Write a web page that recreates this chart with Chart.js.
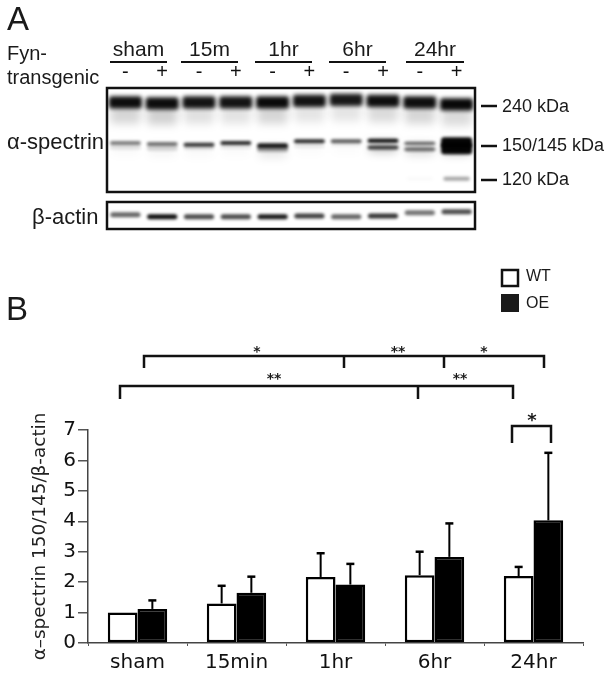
<!DOCTYPE html>
<html>
<head>
<meta charset="utf-8">
<script src="https://cdn.jsdelivr.net/npm/chart.js@4"></script>
<style>
  html, body { margin: 0; background: #fff; }
  #page { position: relative; width: 608px; height: 675px; overflow: hidden; filter: blur(0.45px); }
  canvas { position: absolute; display: block; }
</style>
</head>
<body>
<div id="page">
  <canvas id="bars" width="608" height="675" style="left:0;top:0"></canvas>
  <canvas id="blot" width="372" height="134" style="left:105px;top:60px"></canvas>
  <canvas id="actin" width="372" height="31" style="left:105px;top:200px"></canvas>
</div>
<script>
// panel B values
const timepoints = ['sham', '15min', '1hr', '6hr', '24hr']
const wtValues   = [1.0, 1.3, 2.17, 2.23, 2.2]
const oeValues   = [1.12, 1.65, 1.92, 2.83, 4.03]
const wtErrTop   = [null, 1.88, 2.95, 3.0, 2.5]
const oeErrTop   = [1.4, 2.18, 2.6, 3.93, 6.25]
const yTicks     = [0, 1, 2, 3, 4, 5, 6, 7]

// panel A blot, band position = distance down the membrane, shade = 0..1
const laneSigns  = ['-', '+', '-', '+', '-', '+', '-', '+', '-', '+']
const pos240     = [14, 15, 14, 14, 14, 12.7, 11.7, 12.7, 14, 16]
const shade240   = [.95, .95, .92, .92, .96, .92, .9, .94, .94, .97]
const smear240   = [.16, .18, .12, .11, .16, .1, .1, .14, .16, .14]
const pos150     = [54, 55, 55.7, 54, 56.7, 52.3, 52.3, 51.7, 54.3, 53.3]
const shade150   = [.5, .55, .8, .85, .9, .85, .65, .95, .6, .98]
const thick150   = [4, 4, 4, 4, 5, 4, 4, 4, 3, 10]
const pos145     = [58, 59, 59, 58, 60, 57, 56, 58.3, 60, 59.5]
const shade145   = [.1, .15, .1, .08, .35, .08, .06, .75, .55, .98]
const thick145   = [5, 5, 4, 4, 5, 4, 3, 4, 4, 11]
const pos120     = [89, 89, 89, 89, 89, 89, 89, 89, 89, 89]
const shade120   = [0, 0, 0, 0, 0, 0, 0, 0, .02, .35]
const posActin   = [12.7, 14.7, 14.7, 14.7, 14.7, 14, 14.7, 14, 10.7, 9.7]
const shadeActin = [.6, .95, .7, .7, .9, .75, .6, .8, .55, .7]

const SANS = '"Liberation Sans", Arial, sans-serif'
const VERA = '"DejaVu Sans", Verdana, sans-serif'

const texts = [
  ['A', 7, 21, 33, SANS], ['B', 6, 311, 33, SANS],
  ['Fyn-', 7, 54, 20, SANS], ['transgenic', 7, 78, 20, SANS],
  ['α-spectrin', 7, 143, 22, SANS], ['β-actin', 32, 218, 22, SANS],
  ['240 kDa', 502, 107, 18, SANS], ['150/145 kDa', 502, 146, 18, SANS], ['120 kDa', 502, 180, 18, SANS],
  ['WT', 526, 277, 16, SANS], ['OE', 526, 304, 16, SANS],
]
const groupHeads = [
  ['sham', 110, 167], ['15m', 181, 238], ['1hr', 255, 312], ['6hr', 329, 386], ['24hr', 406, 464],
]
const markerLines = [106, 146, 180]
const brackets = [
  { y: 356, drop: 12, xs: [144, 344, 444, 544] },
  { y: 386, drop: 13, xs: [120, 418, 513] },
  { y: 426, drop: 17, xs: [512, 551] },
]
const stars = [
  ['*', 257, 352, 14], ['**', 398, 352, 14], ['*', 484, 352, 14],
  ['**', 274, 379, 14], ['**', 460, 379, 14], ['*', 532, 421, 18],
]

const overlay = {
  id: 'overlay',
  afterDraw(chart) {
    const c = chart.ctx
    c.save()
    c.fillStyle = '#1a1a1a'
    c.strokeStyle = '#111'
    c.textBaseline = 'middle'
    c.textAlign = 'left'
    texts.forEach(([t, x, y, size, font]) => {
      c.font = `${size}px ${font}`
      c.fillText(t, x, y)
    })
    c.textAlign = 'center'
    c.font = `21px ${SANS}`
    c.lineWidth = 2
    groupHeads.forEach(([t, x0, x1]) => {
      c.fillText(t, (x0 + x1) / 2, 50)
      c.beginPath(); c.moveTo(x0, 62); c.lineTo(x1, 62); c.stroke()
    })
    c.lineWidth = 2.5
    markerLines.forEach(y => {
      c.beginPath(); c.moveTo(481, y); c.lineTo(497, y); c.stroke()
    })
    brackets.forEach(b => {
      c.beginPath()
      c.moveTo(b.xs[0], b.y + b.drop); c.lineTo(b.xs[0], b.y)
      c.lineTo(b.xs[b.xs.length - 1], b.y); c.lineTo(b.xs[b.xs.length - 1], b.y + b.drop)
      b.xs.slice(1, -1).forEach(x => { c.moveTo(x, b.y); c.lineTo(x, b.y + b.drop) })
      c.stroke()
    })
    stars.forEach(([t, x, y, size]) => {
      c.font = `bold ${size}px ${VERA}`
      c.fillText(t, x, y)
    })
    // legend boxes
    c.lineWidth = 2.5
    c.strokeRect(502, 270, 16, 16)
    c.fillRect(501, 294, 18, 18)
    c.restore()
  },
}

const errorBars = {
  id: 'errorBars',
  afterDatasetsDraw(chart) {
    const c = chart.ctx
    const y = chart.scales.y
    c.save()
    c.strokeStyle = '#000'
    ;[wtErrTop, oeErrTop].forEach((tops, ds) => {
      chart.getDatasetMeta(ds).data.forEach((bar, i) => {
        if (tops[i] == null) return
        const top = y.getPixelForValue(tops[i])
        c.lineWidth = 2
        c.beginPath(); c.moveTo(bar.x, bar.y); c.lineTo(bar.x, top); c.stroke()
        c.lineWidth = 2.5
        c.beginPath(); c.moveTo(bar.x - 4, top); c.lineTo(bar.x + 4, top); c.stroke()
      })
    })
    c.restore()
  },
}

new Chart(document.getElementById('bars'), {
  type: 'bar',
  data: {
    labels: timepoints,
    datasets: [
      { label: 'WT', data: wtValues, backgroundColor: '#fff', borderColor: '#000', borderWidth: 2.5, borderSkipped: false },
      { label: 'OE', data: oeValues, backgroundColor: '#000', borderColor: '#000', borderWidth: 2.5, borderSkipped: false },
    ],
  },
  options: {
    responsive: false, animation: false,
    layout: { padding: { top: 430, right: 25, bottom: 0, left: 0 } },
    plugins: { legend: { display: false }, tooltip: { enabled: false } },
    datasets: { bar: { categoryPercentage: 0.6, barPercentage: 1 } },
    scales: {
      x: {
        afterFit: s => { s.height = 32 },
        ticks: { color: '#111', font: { family: VERA, size: 20 }, padding: 5, maxRotation: 0 },
        grid: { drawOnChartArea: false, color: '#555', tickLength: 3 },
        border: { color: '#444', width: 1.5 },
      },
      y: {
        min: 0, max: 7,
        afterFit: s => { s.width = 88 },
        afterBuildTicks: s => { s.ticks = yTicks.map(value => ({ value })) },
        ticks: { color: '#111', font: { family: VERA, size: 20 }, padding: 2 },
        grid: { drawOnChartArea: false, color: '#555', tickLength: 10, lineWidth: 1.5 },
        border: { color: '#444', width: 1.5 },
        title: {
          display: true,
          text: 'α–spectrin 150/145/β-actin',
          color: '#222',
          font: { family: VERA, size: 18.4 },
          padding: { top: 29, bottom: 0 },
        },
      },
    },
  },
  plugins: [errorBars, overlay],
})

// soft edges for the blot bands
const bandBlur = {
  id: 'bandBlur',
  beforeDatasetDraw(chart, args) {
    chart.ctx.save()
    chart.ctx.filter = `blur(${chart.data.datasets[args.index].blur || 0}px)`
  },
  afterDatasetDraw(chart) { chart.ctx.restore() },
}
const frame = {
  id: 'frame',
  afterDraw(chart) {
    const { left, top, width, height } = chart.chartArea
    chart.ctx.save()
    chart.ctx.strokeStyle = '#111'
    chart.ctx.lineWidth = 2.5
    chart.ctx.strokeRect(left, top, width, height)
    chart.ctx.restore()
  },
}

function band(positions, shades, thick, blur, pct) {
  return {
    data: positions.map((p, i) => {
      const t = Array.isArray(thick) ? thick[i] : thick
      return [p - t / 2, p + t / 2]
    }),
    backgroundColor: shades.map(a => `rgba(0,0,0,${a})`),
    blur,
    barPercentage: pct,
    borderRadius: 3,
    borderSkipped: false,
  }
}

function blotOptions(yMax, padding, showSigns) {
  return {
    responsive: false, animation: false,
    layout: { padding },
    plugins: { legend: { display: false }, tooltip: { enabled: false } },
    datasets: { bar: { categoryPercentage: 1, grouped: false } },
    scales: {
      x: {
        display: showSigns,
        position: 'top',
        afterFit: s => { if (showSigns) s.height = 28 },
        ticks: { color: '#111', font: { family: SANS, size: 20 }, padding: 4, maxRotation: 0, autoSkip: false },
        grid: { display: false, drawTicks: false },
        border: { display: false },
      },
      y: { display: false, reverse: true, min: 0, max: yMax },
    },
  }
}

new Chart(document.getElementById('blot'), {
  type: 'bar',
  data: {
    labels: laneSigns,
    datasets: [
      band(pos240.map(p => p + 11), smear240, 20, 4, 0.82),
      band(pos150.map(p => p + 6), shade145.map(a => a * 0.25), 12, 4, 0.75),
      band(pos240, shade240, 12, 2, 0.9),
      band(pos150, shade150, thick150, 1.5, 0.84),
      band(pos145, shade145, thick145, 1.5, 0.84),
      band(pos120, shade120, 4, 1.5, 0.72),
    ],
  },
  options: blotOptions(102, { top: 0, left: 2, right: 2, bottom: 2 }, true),
  plugins: [bandBlur, frame],
})

new Chart(document.getElementById('actin'), {
  type: 'bar',
  data: {
    labels: laneSigns,
    datasets: [band(posActin, shadeActin, 5, 1.4, 0.82)],
  },
  options: blotOptions(27, 2, false),
  plugins: [bandBlur, frame],
})
</script>
</body>
</html>
